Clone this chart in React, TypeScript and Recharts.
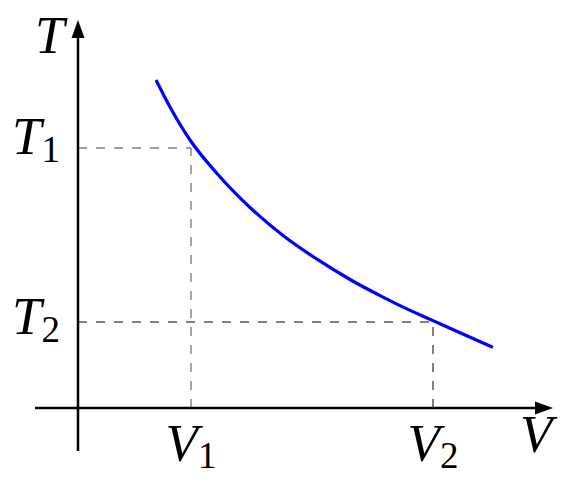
import { LineChart, Line, XAxis, YAxis, ReferenceLine, ReferenceDot } from "recharts";

/* ---- data (1 unit = 100 px of the original drawing) ---- */
const curveV = [0.78, 0.92, 1.12, 1.39, 1.72, 2.05, 2.39, 2.72, 3.05, 3.22, 3.55, 3.82, 4.15];
const curveT = [3.28, 3.01, 2.68, 2.345, 2.005, 1.725, 1.488, 1.285, 1.109, 1.024, 0.874, 0.752, 0.607];

const vTicks = [1.13, 3.55];
const vTickNames = ["V", "V"];
const vTickSubs = ["1", "2"];

const tTicks = [0.86, 2.6];
const tTickNames = ["T", "T"];
const tTickSubs = ["2", "1"];

const axisNames = { x: "V", y: "T" };

const curveData = curveV.map((v, i) => ({ v, t: curveT[i] }));

/* ---- style ---- */
const W = 570;
const H = 486;
const FONT = "'Liberation Serif', 'DejaVu Serif', serif";
const MAIN_SIZE = 53;
const SUB_SIZE = 37;
const dashGray = "#808080";
const tLabelNudge = [12, 6];

function YTick(props: any) {
  const { x, y, payload } = props;
  const i = tTicks.indexOf(payload.value);
  if (i < 0) return null;
  return (
    <text
      x={x - 18}
      y={y + tLabelNudge[i]}
      textAnchor="end"
      fontFamily={FONT}
      fontStyle="italic"
      fontSize={MAIN_SIZE}
      fill="#000"
    >
      {tTickNames[i]}
      <tspan fontStyle="normal" fontSize={SUB_SIZE} dy={8}>
        {tTickSubs[i]}
      </tspan>
    </text>
  );
}

function XTick(props: any) {
  const { x, y, payload } = props;
  const i = vTicks.indexOf(payload.value);
  if (i < 0) return null;
  return (
    <text
      x={x}
      y={y + 53}
      textAnchor="middle"
      fontFamily={FONT}
      fontStyle="italic"
      fontSize={MAIN_SIZE}
      fill="#000"
    >
      {vTickNames[i]}
      <tspan fontStyle="normal" fontSize={SUB_SIZE} dy={7}>
        {vTickSubs[i]}
      </tspan>
    </text>
  );
}

function UpArrow(props: any) {
  const { cx, cy } = props;
  return (
    <g>
      <polygon points={`${cx},${cy} ${cx - 6.5},${cy + 18} ${cx + 6.5},${cy + 18}`} fill="#000" />
      <text x={cx - 43} y={cy + 33} fontFamily={FONT} fontStyle="italic" fontSize={MAIN_SIZE} fill="#000">
        {axisNames.y}
      </text>
    </g>
  );
}

function RightArrow(props: any) {
  const { cx, cy } = props;
  return (
    <g>
      <polygon points={`${cx},${cy} ${cx - 18},${cy - 6.5} ${cx - 18},${cy + 6.5}`} fill="#000" />
      <text x={cx - 33} y={cy + 44} fontFamily={FONT} fontStyle="italic" fontSize={MAIN_SIZE} fill="#000">
        {axisNames.x}
      </text>
    </g>
  );
}

export default function App() {
  const [t2, t1] = tTicks;
  const [v1, v2] = vTicks;
  return (
    <div style={{ position: "absolute", left: 0, top: 0, width: W, height: H, background: "#fff" }}>
      <LineChart width={W} height={H} data={curveData} margin={{ top: 0, right: 0, bottom: 0, left: 0 }}>
        <XAxis
          dataKey="v"
          type="number"
          domain={[0, 4.92]}
          allowDataOverflow
          height={78}
          ticks={vTicks}
          interval={0}
          axisLine={false}
          tickLine={false}
          tickSize={0}
          tickMargin={0}
          tick={<XTick />}
        />
        <YAxis
          type="number"
          domain={[0, 4.08]}
          allowDataOverflow
          width={78}
          ticks={tTicks}
          interval={0}
          axisLine={false}
          tickLine={false}
          tickSize={0}
          tickMargin={0}
          tick={<YTick />}
        />

        {/* guide lines */}
        <ReferenceLine segment={[{ x: 0, y: t1 }, { x: v1, y: t1 }]} stroke={dashGray} strokeWidth={1.4} strokeDasharray="9 9" ifOverflow="visible" />
        <ReferenceLine segment={[{ x: v1, y: 0 }, { x: v1, y: t1 }]} stroke={dashGray} strokeWidth={1.4} strokeDasharray="9 9" ifOverflow="visible" />
        <ReferenceLine segment={[{ x: 0, y: t2 }, { x: v2, y: t2 }]} stroke={dashGray} strokeWidth={2} strokeDasharray="9 9" ifOverflow="visible" />
        <ReferenceLine segment={[{ x: v2, y: 0 }, { x: v2, y: t2 }]} stroke={dashGray} strokeWidth={2} strokeDasharray="9 9" ifOverflow="visible" />

        {/* axes */}
        <ReferenceLine segment={[{ x: -0.43, y: 0 }, { x: 4.62, y: 0 }]} stroke="#000" strokeWidth={2.5} ifOverflow="visible" />
        <ReferenceLine segment={[{ x: 0, y: -0.43 }, { x: 0, y: 3.75 }]} stroke="#000" strokeWidth={2.5} ifOverflow="visible" />
        <ReferenceDot x={4.75} y={0} r={0} shape={RightArrow} ifOverflow="visible" />
        <ReferenceDot x={0} y={3.88} r={0} shape={UpArrow} ifOverflow="visible" />

        <Line
          type="monotone"
          dataKey="t"
          stroke="#0000ff"
          strokeWidth={3.2}
          dot={false}
          activeDot={false}
          isAnimationActive={false}
        />
      </LineChart>
    </div>
  );
}
